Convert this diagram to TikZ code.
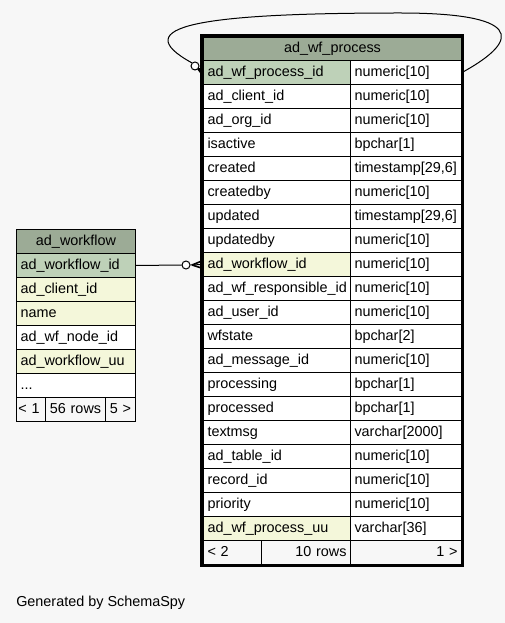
\documentclass[tikz,border=0pt]{standalone}
\usepackage{fontspec}
\setmainfont{Liberation Sans}
\definecolor{bg}{HTML}{F7F7F7}
\definecolor{hdr}{HTML}{9CAB96}
\definecolor{keyc}{HTML}{BED1B8}
\definecolor{idxc}{HTML}{F4F7DA}
\newcommand\px{0.75pt}
\tikzset{
  cell/.style={draw=black, line width=1*\px, anchor=north west, minimum height=24*\px,
    inner xsep=4*\px, inner ysep=0pt, align=left, text height=7.6pt, text depth=1.6pt},
  hcell/.style={cell, align=center},
  rcell/.style={cell, align=right},
  crow/.style={line width=1*\px},
  toe/.style={line width=1.6*\px},
  opt/.style={circle, draw=black, fill=white, line width=1*\px, minimum size=8*\px, inner sep=0pt},
}
\begin{document}
\begin{tikzpicture}[x=0.75pt,y=-0.75pt, font=\fontsize{10.8}{13}\selectfont]
\fill[bg] (0,0) rectangle (505,623);
\useasboundingbox (0,0) rectangle (505,623);

% ---------- ad_wf_process ----------
\node[hcell, fill=hdr, minimum width=258*\px, text width=250*\px, minimum height=23*\px] (phdr) at (203,37) {ad\_wf\_process};
\foreach \i/\n/\t/\c in {
  0/ad\_wf\_process\_id/numeric[10]/keyc,
  1/ad\_client\_id/numeric[10]/white,
  2/ad\_org\_id/numeric[10]/white,
  3/isactive/bpchar[1]/white,
  4/created/timestamp[29{,}6]/white,
  5/createdby/numeric[10]/white,
  6/updated/timestamp[29{,}6]/white,
  7/updatedby/numeric[10]/white,
  8/ad\_workflow\_id/numeric[10]/idxc,
  9/ad\_wf\_responsible\_id/numeric[10]/white,
  10/ad\_user\_id/numeric[10]/white,
  11/wfstate/bpchar[2]/white,
  12/ad\_message\_id/numeric[10]/white,
  13/processing/bpchar[1]/white,
  14/processed/bpchar[1]/white,
  15/textmsg/varchar[2000]/white,
  16/ad\_table\_id/numeric[10]/white,
  17/record\_id/numeric[10]/white,
  18/priority/numeric[10]/white,
  19/ad\_wf\_process\_uu/varchar[36]/idxc}{
  \node[cell, fill=\c, minimum width=147*\px, text width=139*\px] (pr\i) at (203,60+24*\i) {\n};
  \node[cell, fill=white, minimum width=111*\px, text width=103*\px] (ty\i) at (350,60+24*\i) {\t};
}
\node[cell, fill=bg, minimum width=58*\px, text width=50*\px] (pf1) at (203,540) {< 2};
\node[rcell, fill=bg, minimum width=89*\px, text width=81*\px] (pf2) at (261,540) {10 rows};
\node[rcell, fill=bg, minimum width=111*\px, text width=103*\px] (pf3) at (350,540) {1 >};
\draw[line width=3*\px] (201.5,35.5) rectangle (462.5,565.5);

% ---------- ad_workflow ----------
\node[hcell, fill=hdr, minimum width=119*\px, text width=111*\px] (whdr) at (16,229) {ad\_workflow};
\foreach \i/\n/\c in {
  0/ad\_workflow\_id/keyc,
  1/ad\_client\_id/idxc,
  2/name/idxc,
  3/ad\_wf\_node\_id/white,
  4/ad\_workflow\_uu/idxc}{
  \node[cell, fill=\c, minimum width=119*\px, text width=111*\px] (wf\i) at (16,253+24*\i) {\n};
}
\node[cell, fill=white, minimum width=119*\px, text width=111*\px] (wf5) at (16,373) {.{}.{}.};
\node[cell, fill=bg, inner xsep=2*\px, minimum width=29*\px, text width=25*\px] (wf1f) at (16,397) {\mbox{< 1}};
\node[cell, fill=bg, inner xsep=2*\px, minimum width=60*\px, text width=56*\px, align=center] (wf2f) at (45,397) {56 rows};
\node[cell, fill=bg, inner xsep=2*\px, minimum width=30*\px, text width=26*\px, align=center] (wf3f) at (105,397) {\mbox{5 >}};

% ---------- relationship ad_workflow -> ad_wf_process ----------
\node[opt] (o1) at (186,265) {};
\draw[crow] (wf0.east) -- (o1.west);
\coordinate (k1) at (192,265);
\draw[crow] (o1.east) -- (pr8.west);
\draw[toe] (k1) -- ([yshift=4*\px]pr8.west);
\draw[toe] (k1) -- ([yshift=-4*\px]pr8.west);

% ---------- self relationship ----------
\node[opt] (o2) at (195,66) {};
\draw[crow] (ty0.east) .. controls (525,38) and (518,13) .. (400,13)
  .. controls (200,13) and (125,26) .. (o2.north west);
\coordinate (k2) at (198,69);
\draw[toe] (o2.south east) -- ([yshift=1*\px]pr0.west);
\draw[toe] (k2) -- ([yshift=4*\px]pr0.west);
\draw[toe] (k2) -- ([yshift=-3*\px]pr0.west);

\node[anchor=west, inner sep=0pt] (gen) at (16,603) {Generated by SchemaSpy};
\end{tikzpicture}
\end{document}
